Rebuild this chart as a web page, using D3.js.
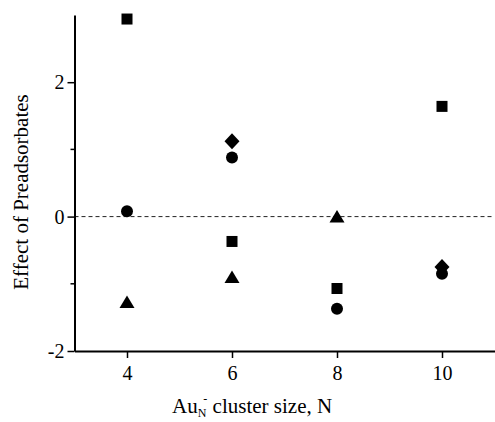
<!DOCTYPE html>
<html>
<head>
<meta charset="utf-8">
<script src="https://cdn.jsdelivr.net/npm/d3@7"></script>
<style>
  body { margin: 0; background: #fff; }
  svg text { font-family: "Liberation Serif", "Times New Roman", serif; fill: #000; }
</style>
</head>
<body>
<div id="chart"></div>
<script>
// cluster sizes N
const sizes = [4, 6, 8, 10];
const squares = [2.94, -0.37, -1.07, 1.64];
const circles = [0.08, 0.88, -1.37, -0.85];
const triangleSizes = [4, 6, 8];
const triangles = [-1.27, -0.90, 0.0];
const diamondSizes = [6, 10];
const diamonds = [1.12, -0.75];

const xTicks = [4, 6, 8, 10];
const yMajor = [-2, 0, 2];
const yMinor = [-1, 1];

function drawChart(selector = "#chart") {
    const width = 495;
    const height = 422;

    const svg = d3.select(selector)
        .html("")
        .append("svg")
        .attr("width", width)
        .attr("height", height);

    const x = d3.scaleLinear()
        .domain([3, 11])
        .range([74.5, 494.5]);

    const y = d3.scaleLinear()
        .domain([-2, 3])
        .range([351, 15]);

    // zero reference line
    svg.append("line")
        .attr("x1", x(3))
        .attr("x2", x(11))
        .attr("y1", y(0))
        .attr("y2", y(0))
        .attr("stroke", "#222")
        .attr("stroke-width", 1)
        .attr("stroke-dasharray", "4,3");

    // y axis
    const yAxis = svg.append("g")
        .attr("transform", `translate(${x(3)},0)`)
        .call(d3.axisLeft(y).tickValues(yMajor).tickSize(7).tickSizeOuter(0).tickPadding(3)
            .tickFormat(d => String(d)));
    yAxis.select(".domain").attr("stroke-width", 2);
    yAxis.selectAll(".tick line").attr("stroke-width", 1.5);
    yAxis.selectAll(".tick text").style("font-size", "20px");

    svg.append("g")
        .attr("transform", `translate(${x(3)},0)`)
        .selectAll("line")
        .data(yMinor)
        .join("line")
        .attr("x1", -4)
        .attr("x2", 0)
        .attr("y1", d => y(d))
        .attr("y2", d => y(d))
        .attr("stroke", "#000")
        .attr("stroke-width", 1.5);

    // x axis
    const xAxis = svg.append("g")
        .attr("transform", `translate(0,${y(-2)})`)
        .call(d3.axisBottom(x).tickValues(xTicks).tickSize(7).tickSizeOuter(0).tickPadding(8));
    xAxis.select(".domain").attr("stroke-width", 2);
    xAxis.selectAll(".tick line").attr("stroke-width", 1.5);
    xAxis.selectAll(".tick text").style("font-size", "20px");

    // axis titles
    svg.append("text")
        .attr("transform", "rotate(-90)")
        .attr("x", -192)
        .attr("y", 28)
        .attr("text-anchor", "middle")
        .style("font-size", "21px")
        .text("Effect of Preadsorbates");

    const xt = svg.append("text")
        .attr("x", 172)
        .attr("y", 413)
        .style("font-size", "21px");
    xt.append("tspan").text("Au");
    xt.append("tspan").attr("dy", 4).style("font-size", "12px").text("N");
    xt.append("tspan").attr("dx", -3).attr("dy", -14).style("font-size", "12px").text("-");
    xt.append("tspan").attr("dy", 10).text(" cluster size, N");

    // markers
    svg.selectAll(".sq")
        .data(sizes.map((n, i) => ({ n, v: squares[i] })))
        .join("rect")
        .attr("class", "sq")
        .attr("x", d => x(d.n) - 5.5)
        .attr("y", d => y(d.v) - 5.5)
        .attr("width", 11)
        .attr("height", 11)
        .attr("fill", "#000");

    svg.selectAll(".dot")
        .data(sizes.map((n, i) => ({ n, v: circles[i] })))
        .join("circle")
        .attr("class", "dot")
        .attr("cx", d => x(d.n))
        .attr("cy", d => y(d.v))
        .attr("r", 6)
        .attr("fill", "#000");

    svg.selectAll(".tri")
        .data(triangleSizes.map((n, i) => ({ n, v: triangles[i] })))
        .join("path")
        .attr("class", "tri")
        .attr("transform", d => `translate(${x(d.n)},${y(d.v)})`)
        .attr("d", "M0,-6.5L7.5,6L-7.5,6Z")
        .attr("fill", "#000");

    svg.selectAll(".dia")
        .data(diamondSizes.map((n, i) => ({ n, v: diamonds[i] })))
        .join("path")
        .attr("class", "dia")
        .attr("transform", d => `translate(${x(d.n)},${y(d.v)})`)
        .attr("d", "M0,-8L7.5,0L0,8L-7.5,0Z")
        .attr("fill", "#000");
}

drawChart();
</script>
</body>
</html>
